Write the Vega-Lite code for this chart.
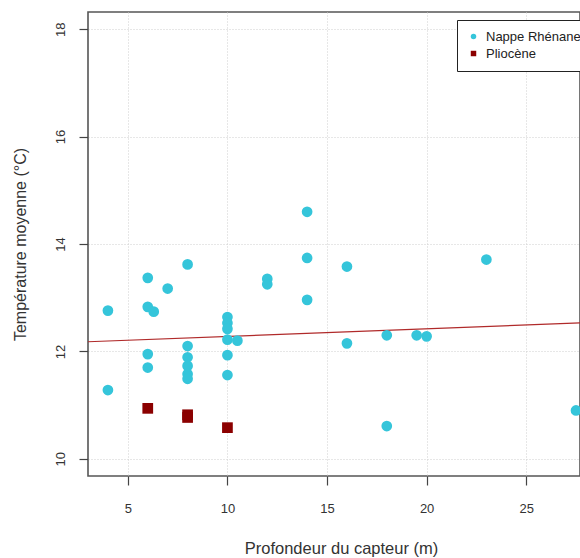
{
  "$schema": "https://vega.github.io/schema/vega-lite/v6.json",
  "width": 492,
  "height": 464,
  "autosize": "none",
  "padding": {"left": 88, "top": 12, "right": 0, "bottom": 82},
  "background": "white",
  "config": {
    "view": {"stroke": "#555555", "strokeWidth": 1.6},
    "font": "Liberation Sans",
    "axis": {
      "domain": false,
      "grid": true,
      "gridColor": "#cfcfcf",
      "gridDash": [1, 2],
      "gridWidth": 1,
      "tickColor": "#444444",
      "tickSize": 9,
      "tickWidth": 1.2,
      "labelFont": "Liberation Sans",
      "labelFontSize": 13,
      "labelColor": "#333333",
      "titleFont": "Liberation Sans",
      "titleFontWeight": "normal",
      "titleColor": "#333333"
    }
  },
  "datasets": {
    "pts": [
      {"prof": 4, "temp": 12.76, "groupe": "Nappe Rhénane"},
      {"prof": 4, "temp": 11.28, "groupe": "Nappe Rhénane"},
      {"prof": 6, "temp": 13.37, "groupe": "Nappe Rhénane"},
      {"prof": 6, "temp": 12.83, "groupe": "Nappe Rhénane"},
      {"prof": 6.3, "temp": 12.74, "groupe": "Nappe Rhénane"},
      {"prof": 7, "temp": 13.17, "groupe": "Nappe Rhénane"},
      {"prof": 6, "temp": 11.95, "groupe": "Nappe Rhénane"},
      {"prof": 6, "temp": 11.70, "groupe": "Nappe Rhénane"},
      {"prof": 8, "temp": 13.62, "groupe": "Nappe Rhénane"},
      {"prof": 8, "temp": 12.10, "groupe": "Nappe Rhénane"},
      {"prof": 8, "temp": 11.89, "groupe": "Nappe Rhénane"},
      {"prof": 8, "temp": 11.73, "groupe": "Nappe Rhénane"},
      {"prof": 8, "temp": 11.58, "groupe": "Nappe Rhénane"},
      {"prof": 8, "temp": 11.49, "groupe": "Nappe Rhénane"},
      {"prof": 10, "temp": 12.64, "groupe": "Nappe Rhénane"},
      {"prof": 10, "temp": 12.53, "groupe": "Nappe Rhénane"},
      {"prof": 10, "temp": 12.42, "groupe": "Nappe Rhénane"},
      {"prof": 10, "temp": 12.22, "groupe": "Nappe Rhénane"},
      {"prof": 10, "temp": 11.93, "groupe": "Nappe Rhénane"},
      {"prof": 10, "temp": 11.56, "groupe": "Nappe Rhénane"},
      {"prof": 10.5, "temp": 12.20, "groupe": "Nappe Rhénane"},
      {"prof": 12, "temp": 13.35, "groupe": "Nappe Rhénane"},
      {"prof": 12, "temp": 13.25, "groupe": "Nappe Rhénane"},
      {"prof": 14, "temp": 14.60, "groupe": "Nappe Rhénane"},
      {"prof": 14, "temp": 13.74, "groupe": "Nappe Rhénane"},
      {"prof": 14, "temp": 12.96, "groupe": "Nappe Rhénane"},
      {"prof": 16, "temp": 13.58, "groupe": "Nappe Rhénane"},
      {"prof": 16, "temp": 12.15, "groupe": "Nappe Rhénane"},
      {"prof": 18, "temp": 12.30, "groupe": "Nappe Rhénane"},
      {"prof": 18, "temp": 10.61, "groupe": "Nappe Rhénane"},
      {"prof": 19.5, "temp": 12.30, "groupe": "Nappe Rhénane"},
      {"prof": 20, "temp": 12.28, "groupe": "Nappe Rhénane"},
      {"prof": 23, "temp": 13.71, "groupe": "Nappe Rhénane"},
      {"prof": 27.5, "temp": 10.90, "groupe": "Nappe Rhénane"},
      {"prof": 6, "temp": 10.94, "groupe": "Pliocène"},
      {"prof": 8, "temp": 10.82, "groupe": "Pliocène"},
      {"prof": 8, "temp": 10.77, "groupe": "Pliocène"},
      {"prof": 10, "temp": 10.58, "groupe": "Pliocène"}
    ],
    "fit": [
      {"prof": 3.0, "temp": 12.18},
      {"prof": 27.7, "temp": 12.53}
    ]
  },
  "layer": [
    {
      "data": {"name": "fit"},
      "mark": {"type": "line", "color": "#B02A2A", "strokeWidth": 1.2, "clip": true},
      "encoding": {
        "x": {"field": "prof", "type": "quantitative"},
        "y": {"field": "temp", "type": "quantitative"}
      }
    },
    {
      "data": {"name": "pts"},
      "mark": {"type": "point", "filled": true, "opacity": 1, "size": 115},
      "encoding": {
        "x": {
          "field": "prof", "type": "quantitative",
          "scale": {"domain": [3.0, 27.7], "nice": false, "zero": false},
          "axis": {"title": "Profondeur du capteur (m)", "values": [5, 10, 15, 20, 25], "labelPadding": 17, "titlePadding": 25, "titleFontSize": 16.5, "titleX": 253, "titleAlign": "center"}
        },
        "y": {
          "field": "temp", "type": "quantitative",
          "scale": {"domain": [9.68, 18.32], "nice": false, "zero": false},
          "axis": {"title": "Température moyenne (°C)", "values": [10, 12, 14, 16, 18], "labelAngle": -90, "labelAlign": "center", "labelBaseline": "bottom", "labelPadding": 12, "titlePadding": 26, "titleFontSize": 16}
        },
        "color": {
          "field": "groupe", "type": "nominal",
          "scale": {"domain": ["Nappe Rhénane", "Pliocène"], "range": ["#35C5DA", "#8B0000"]},
          "legend": {"title": null, "orient": "none", "legendX": 369, "legendY": 8, "strokeColor": "#222222", "fillColor": "white", "padding": 10, "labelFontSize": 13, "labelColor": "#222222", "symbolSize": 30, "rowPadding": 3, "labelOffset": 6, "cornerRadius": 0, "labelLimit": 200}
        },
        "shape": {
          "field": "groupe", "type": "nominal",
          "scale": {"domain": ["Nappe Rhénane", "Pliocène"], "range": ["circle", "square"]},
          "legend": {"title": null, "orient": "none", "legendX": 369, "legendY": 8}
        }
      }
    }
  ]
}
